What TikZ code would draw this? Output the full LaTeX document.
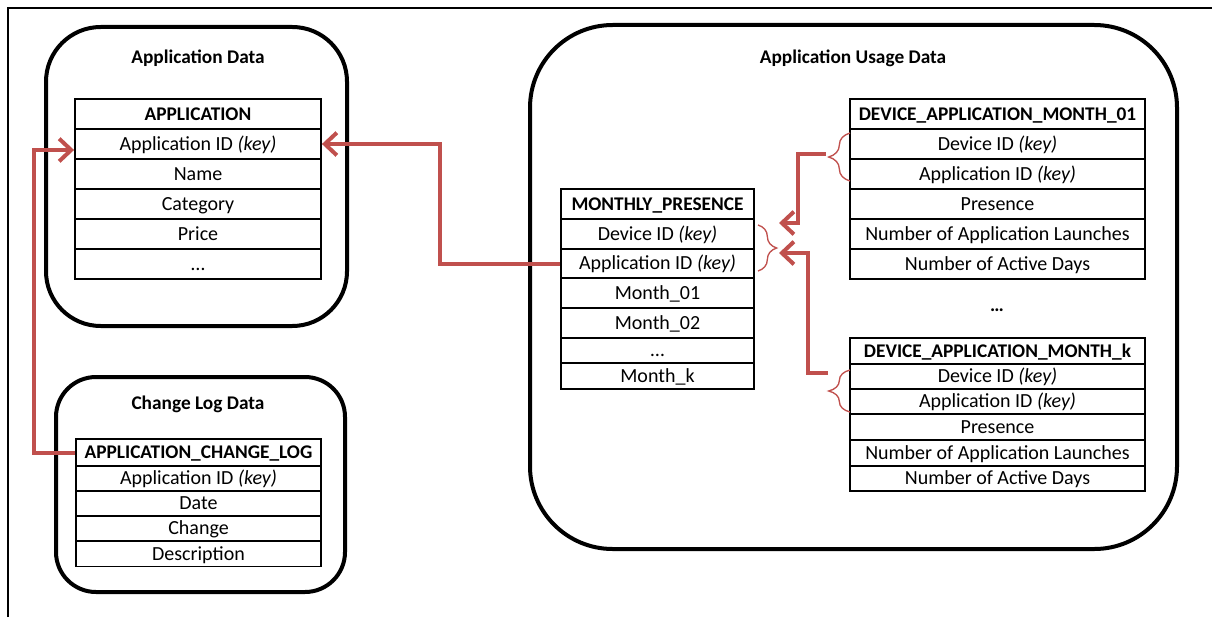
\documentclass[tikz,border=0pt]{standalone}
\usepackage{fontspec}
\setmainfont{Carlito}
\usetikzlibrary{decorations.pathreplacing,arrows.meta}
\definecolor{relred}{RGB}{192,80,77}
\begin{document}
\begin{tikzpicture}[x=0.75pt,y=-0.75pt,
  font=\fontsize{15}{18}\selectfont,
  cell/.style={draw, line width=1.4pt, inner sep=0pt, text height=1.02em, text depth=0.12em},
  hdr/.style={font=\fontsize{14.5}{17}\selectfont\bfseries},
  appcell/.style={cell, minimum width=184.5pt, minimum height=22.5pt},
  clcell/.style={cell, minimum width=183.75pt, minimum height=18.75pt},
  mpcell/.style={cell, minimum width=144.75pt, minimum height=22.5pt},
  dacell/.style={cell, minimum width=221.25pt, minimum height=22.5pt},
  dkcell/.style={cell, minimum width=221.25pt, minimum height=19.1pt},
  group/.style={draw, line width=3pt},
  title/.style={font=\fontsize{14.5}{17}\selectfont\bfseries},
  conn/.style={draw=relred, line width=3pt, -{Straight Barb[length=9pt,width=17pt]}},
  bracestyle/.style={draw=relred, line width=1pt, decorate}
]
\useasboundingbox (0,0) rectangle (1212,617);
% frame
\draw[line width=1.3pt] (8,617) -- (8,8) -- (1212,8);

% group boxes
\draw[group, rounded corners=41pt] (46,27) rectangle (347,326);
\node[title] (tApp) at (198,58) {Application Data};
\draw[group, rounded corners=30pt] (56,377) rectangle (345,592);
\node[title] (tLog) at (198,404) {Change Log Data};
\draw[group, rounded corners=62pt] (530,25) rectangle (1177,549);
\node[title] (tUse) at (853,58) {Application Usage Data};

% APPLICATION
\node[appcell, hdr] (app0) at (198,114) {APPLICATION};
\node[appcell] (app1) at (198,144) {Application ID \textit{(key)}};
\node[appcell] (app2) at (198,174) {Name};
\node[appcell] (app3) at (198,204) {Category};
\node[appcell] (app4) at (198,234) {Price};
\node[appcell] (app5) at (198,264) {…};

% APPLICATION_CHANGE_LOG
\node[clcell, hdr, minimum height=20.25pt] (cl0) at (198.5,452.5) {APPLICATION\_CHANGE\_LOG};
\node[clcell] (cl1) at (198.5,478.5) {Application ID \textit{(key)}};
\node[clcell] (cl2) at (198.5,503.5) {Date};
\node[clcell] (cl3) at (198.5,528.5) {Change};
\node[clcell] (cl4) at (198.5,554) {Description};

% MONTHLY_PRESENCE
\node[mpcell, hdr] (mp0) at (657.5,204) {MONTHLY\_PRESENCE};
\node[mpcell] (mp1) at (657.5,234) {Device ID \textit{(key)}};
\node[mpcell, minimum height=21.75pt] (mp2) at (657.5,263.5) {Application ID \textit{(key)}};
\node[mpcell] (mp3) at (657.5,293) {Month\_01};
\node[mpcell] (mp4) at (657.5,323) {Month\_02};
\node[mpcell, minimum height=18.75pt] (mp5) at (657.5,350.5) {…};
\node[mpcell, minimum height=19.5pt] (mp6) at (657.5,376) {Month\_k};

% DEVICE_APPLICATION_MONTH_01
\node[dacell, hdr] (da0) at (997.5,114) {DEVICE\_APPLICATION\_MONTH\_01};
\node[dacell] (da1) at (997.5,144) {Device ID \textit{(key)}};
\node[dacell] (da2) at (997.5,174) {Application ID \textit{(key)}};
\node[dacell] (da3) at (997.5,204) {Presence};
\node[dacell] (da4) at (997.5,234) {Number of Application Launches};
\node[dacell] (da5) at (997.5,264) {Number of Active Days};

\node[hdr] (dots) at (997,310) {…};

% DEVICE_APPLICATION_MONTH_k
\node[dkcell, hdr] (dk0) at (997.5,351) {DEVICE\_APPLICATION\_MONTH\_k};
\node[dkcell] (dk1) at (997.5,376.5) {Device ID \textit{(key)}};
\node[dkcell] (dk2) at (997.5,401.5) {Application ID \textit{(key)}};
\node[dkcell] (dk3) at (997.5,427) {Presence};
\node[dkcell] (dk4) at (997.5,453) {Number of Application Launches};
\node[dkcell] (dk5) at (997.5,478.5) {Number of Active Days};

% braces
\coordinate (mpbA) at (758,225);
\coordinate (mpbB) at (758,271);
\draw[bracestyle, decoration={brace, amplitude=14pt}] (mpbA) -- (mpbB);
\coordinate (dabA) at (850,181);
\coordinate (dabB) at (850,133);
\draw[bracestyle, decoration={brace, amplitude=16pt}] (dabA) -- (dabB);
\coordinate (dkbA) at (850,412);
\coordinate (dkbB) at (850,370);
\draw[bracestyle, decoration={brace, amplitude=16pt}] (dkbA) -- (dkbB);

% connectors
\coordinate (mpin1) at (779,223);
\coordinate (mpin2) at (779,253);
\coordinate (datip) at (826,154);
\coordinate (dktip) at (828,373);
\draw[conn] (mp2.west) -- ++(-120,0) |- (app1.east);
\draw[conn] (cl0.west) -- ++(-41,0) |- ([yshift=-4.5pt]app1.west);
\draw[conn] (datip) -- ++(-28,0) |- (mpin1);
\draw[conn] (dktip) -- ++(-20,0) |- (mpin2);
\end{tikzpicture}
\end{document}
